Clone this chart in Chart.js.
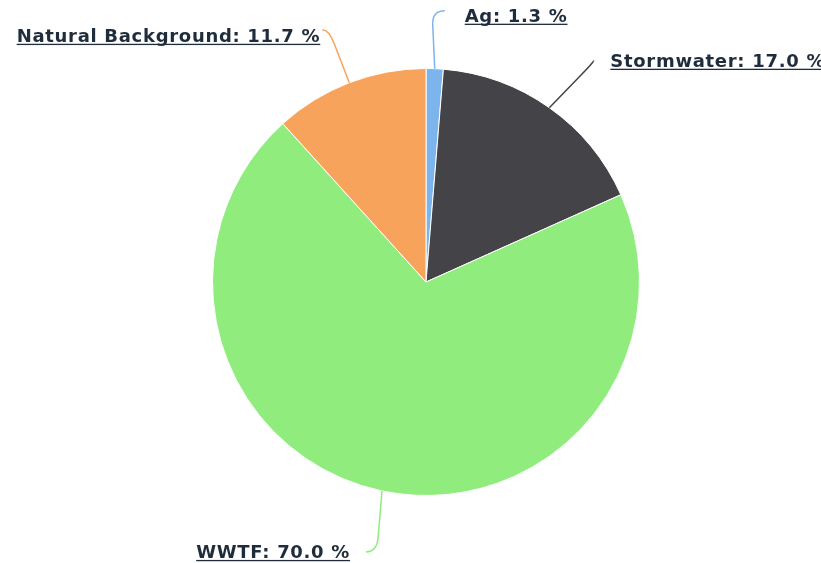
<!DOCTYPE html>
<html>
<head>
<meta charset="utf-8">
<script src="https://cdn.jsdelivr.net/npm/chart.js@4"></script>
<style>
    html, body { margin: 0; padding: 0; background: #fff; }
    #wrap { width: 821px; height: 563px; position: relative; }
</style>
</head>
<body>
<div id="wrap"><canvas id="sourceChart"></canvas></div>
<script>
// Data
const categories = ['Ag', 'Stormwater', 'WWTF', 'Natural Background'];
const shares = [1.3, 17.0, 70.0, 11.7];
const sliceColors = ['#7cb5ec', '#434348', '#90ed7d', '#f7a35c'];

// label layout, relative to the slice's outer mid point
// [connector end dx, dy, text dx, text baseline dy, align]
const labelLayout = [
    [10, -58, 30, -47, 'left'],
    [44, -47, 61, -41, 'left'],
    [-16, 61, -32, 67, 'right'],
    [-27, -53, -29, -41, 'right']
];

const pieLabels = {
    id: 'pieLabels',
    afterDatasetsDraw(chart) {
        const ctx = chart.ctx;
        const meta = chart.getDatasetMeta(0);
        meta.data.forEach(function(arc, i) {
            const mid = (arc.startAngle + arc.endAngle) / 2;
            const ex = arc.x + Math.cos(mid) * arc.outerRadius;
            const ey = arc.y + Math.sin(mid) * arc.outerRadius;
            const lay = labelLayout[i];
            const lx = ex + lay[0], ly = ey + lay[1];
            const sx = lay[4] === 'left' ? 1 : -1;
            const sy = ey > ly ? 1 : -1;
            const bx = lx - sx * 12, by = ly + sy * 14;
            // control point where E->B line reaches the end height
            const t = (ly - ey) / (by - ey);
            const cx = ex + (bx - ex) * t;

            ctx.save();
            ctx.strokeStyle = sliceColors[i];
            ctx.lineWidth = 1.5;
            ctx.beginPath();
            ctx.moveTo(ex, ey);
            ctx.lineTo(bx, by);
            ctx.quadraticCurveTo(cx, ly, lx, ly);
            ctx.stroke();

            const text = categories[i] + ': ' + shares[i].toFixed(1) + ' %';
            ctx.font = 'bold 18px "DejaVu Sans"';
            ctx.letterSpacing = '0.7px';
            ctx.fillStyle = '#1f2c3b';
            ctx.textAlign = lay[4];
            ctx.textBaseline = 'alphabetic';
            const tx = ex + lay[2], ty = ey + lay[3];
            ctx.fillText(text, tx, ty);
            const w = ctx.measureText(text).width;
            const x0 = lay[4] === 'left' ? tx : tx - w;
            ctx.fillRect(x0, ty + 2, w, 1.3);
            ctx.restore();
        });
    }
};

const ctx = document.getElementById('sourceChart').getContext('2d');
const sourceChart = new Chart(ctx, {
    type: 'pie',
    data: {
        labels: categories,
        datasets: [{
            data: shares,
            backgroundColor: sliceColors,
            borderColor: '#fff',
            borderWidth: 1
        }]
    },
    options: {
        responsive: true,
        maintainAspectRatio: false,
        animation: false,
        layout: {
            padding: { top: 68, bottom: 67, left: 31, right: 0 }
        },
        plugins: {
            legend: { display: false },
            tooltip: { enabled: false }
        }
    },
    plugins: [pieLabels]
});
</script>
</body>
</html>
